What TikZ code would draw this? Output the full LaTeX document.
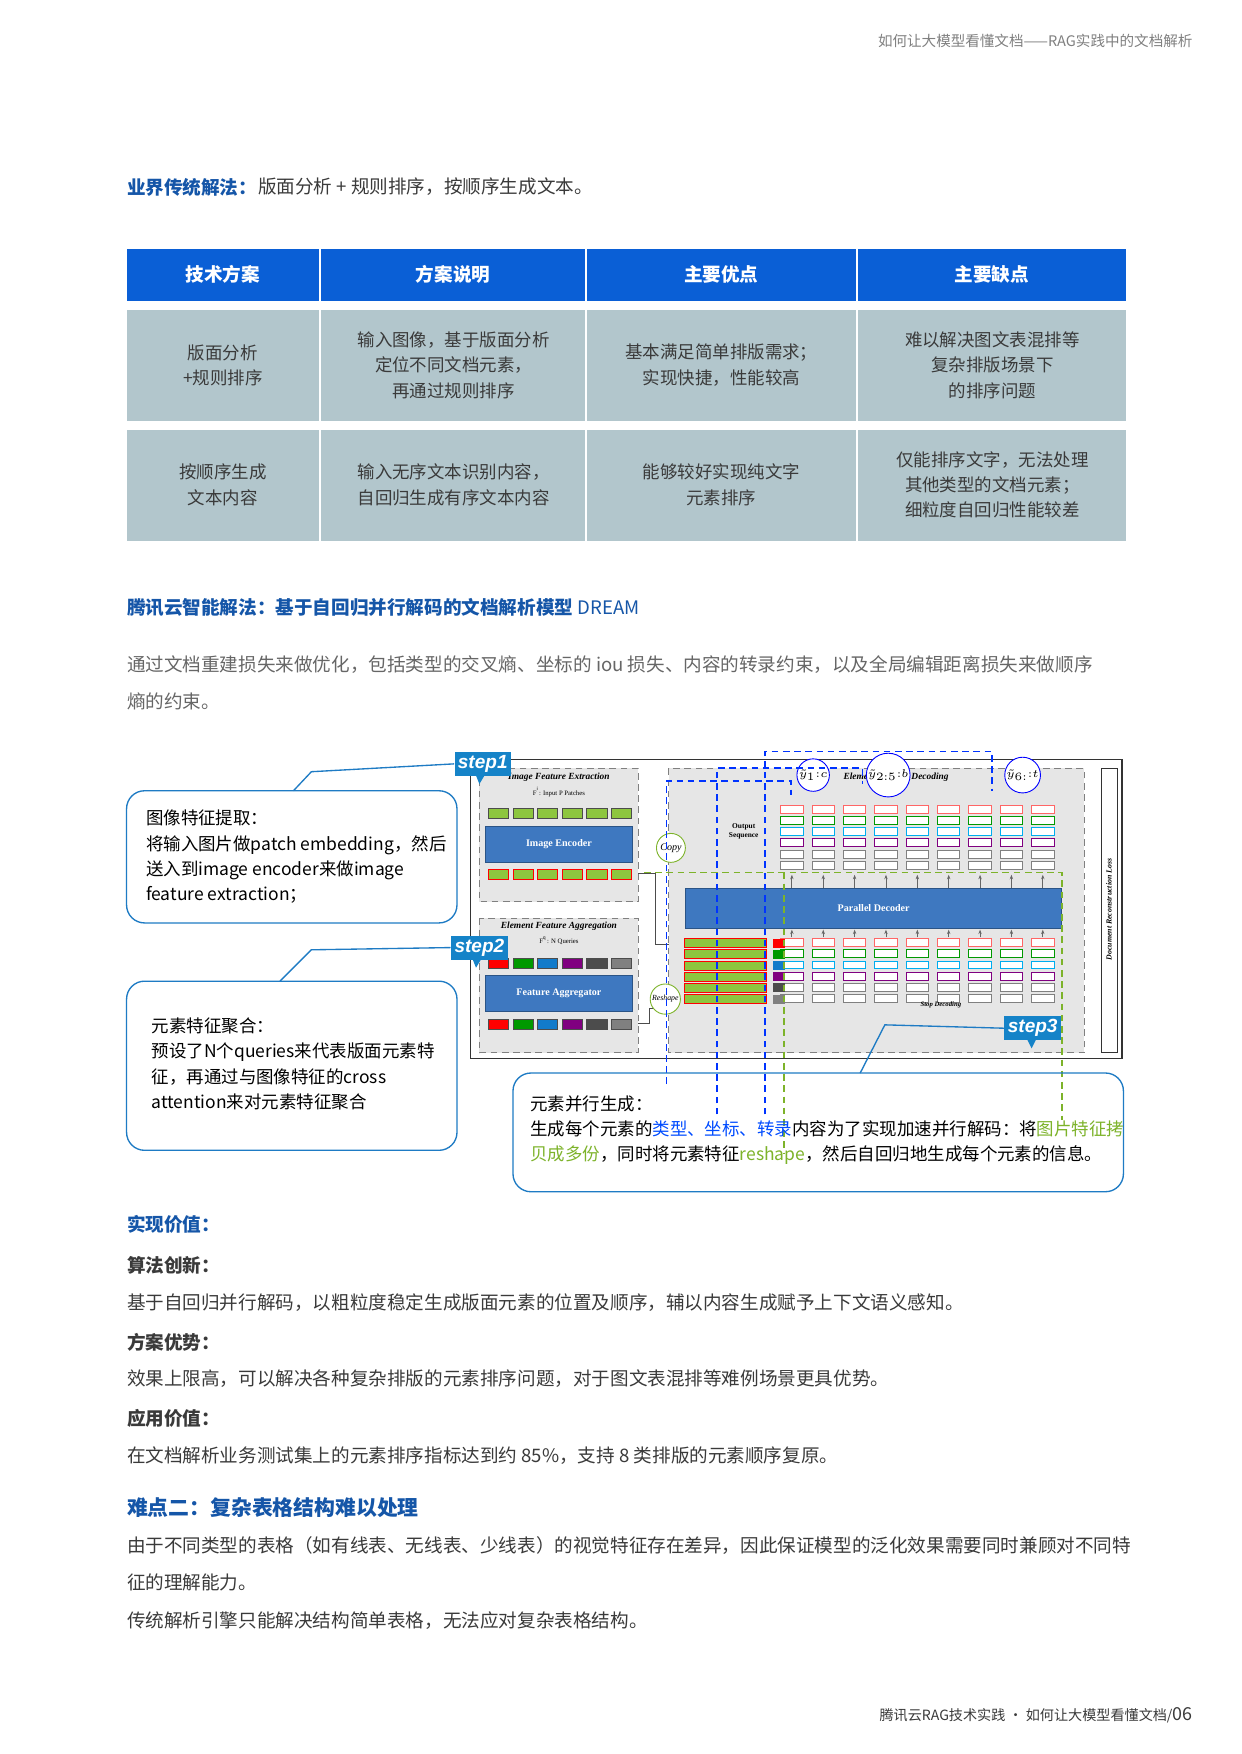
\documentclass[tikz,border=0pt]{standalone}
\usepackage{fontspec}
\setmainfont{Noto Sans CJK SC}
\newfontfamily\serifd{Liberation Serif}
\newfontfamily\sansd{Liberation Sans}
\usetikzlibrary{shapes.callouts,arrows.meta}
\definecolor{tblue}{HTML}{0A5FD6}
\definecolor{hblue}{HTML}{1556A8}
\definecolor{cellg}{HTML}{B2C6CC}
\definecolor{txt}{HTML}{3A3A3A}
\definecolor{dblue}{HTML}{3E78C0}
\definecolor{lgray}{HTML}{E6E6E6}
\definecolor{pgreen}{HTML}{8DC63F}
\definecolor{cblue}{HTML}{1E7BC4}
\definecolor{ygreen}{HTML}{7DB32A}
\definecolor{tagblue}{HTML}{1583C8}
\tikzset{
 body/.style={anchor=west,font=\fontsize{8.3}{10}\selectfont,text=txt,inner sep=0},
 head/.style={anchor=west,font=\fontsize{8.3}{10}\selectfont\bfseries,text=hblue,inner sep=0},
 sub/.style={anchor=west,font=\fontsize{8.3}{10}\selectfont\bfseries,text=txt,inner sep=0},
 th/.style={font=\fontsize{8.3}{10}\selectfont\bfseries,text=white},
 td/.style={font=\fontsize{7.8}{11.3}\selectfont,text=txt,align=center},
 callbox/.style={draw=cblue,line width=0.6pt,rounded corners=8pt},
 ctext/.style={anchor=west,font=\fontsize{7.8}{11.3}\selectfont,text=black,align=left,inner sep=0},
 steptag/.style={fill=tagblue,text=white,font=\sansd\fontsize{8.5}{10}\selectfont\bfseries\itshape,inner sep=1.5pt},
 dtitle/.style={font=\serifd\fontsize{4.2}{5}\selectfont\bfseries\itshape},
 blk/.style={fill=dblue,draw=dblue!70!black,text=white,font=\serifd\fontsize{4.5}{5}\selectfont\bfseries},
 bdash/.style={draw=blue!80!cyan,densely dashed,line width=0.8pt},
 gdash/.style={draw=ygreen,densely dashed,line width=0.8pt},
 ybub/.style={draw=blue,fill=white,circle,inner sep=0.3pt,font=\serifd\fontsize{3.6}{4}\selectfont},
}
\begin{document}
\begin{tikzpicture}[x=0.5pt,y=-0.5pt]
\useasboundingbox (0,0) rectangle (1108,1566);
\fill[white] (0,0) rectangle (1108,1566);
% header
\node[anchor=east,font=\fontsize{6.5}{8}\selectfont,text=gray,inner sep=0] (hdr) at (1065,37) {如何让大模型看懂文档——RAG实践中的文档解析};
\node[head] (h1) at (113,167) {业界传统解法：};
\node[body,anchor=west] (h1b) at (h1.east) {版面分析 + 规则排序，按顺序生成文本。};
% table
\foreach \a/\b/\t in {113/285/技术方案,287/522/方案说明,524/764/主要优点,766/1005/主要缺点}{
 \fill[tblue] (\a,222) rectangle (\b,269);
 \node[th] at ({(\a+\b)/2},245) {\t};
}
\foreach \a/\b in {113/285,287/522,524/764,766/1005}{
 \fill[cellg] (\a,277) rectangle (\b,376);
 \fill[cellg] (\a,384) rectangle (\b,483);
}
\node[td] (c11) at (199,326) {版面分析\\+规则排序};
\node[td] (c12) at (405,326) {输入图像，基于版面分析\\定位不同文档元素，\\再通过规则排序};
\node[td] (c13) at (644,326) {基本满足简单排版需求；\\实现快捷，性能较高};
\node[td] (c14) at (886,326) {难以解决图文表混排等\\复杂排版场景下\\的排序问题};
\node[td] (c21) at (199,433) {按顺序生成\\文本内容};
\node[td] (c22) at (405,433) {输入无序文本识别内容，\\自回归生成有序文本内容};
\node[td] (c23) at (644,433) {能够较好实现纯文字\\元素排序};
\node[td] (c24) at (886,433) {仅能排序文字，无法处理\\其他类型的文档元素；\\细粒度自回归性能较差};
% DREAM heading
\node[head] (h2) at (113,542) {腾讯云智能解法：基于自回归并行解码的文档解析模型 \textmd{DREAM}};
\node[body,text=gray!80!black] (p1) at (113,593) {通过文档重建损失来做优化，包括类型的交叉熵、坐标的 iou 损失、内容的转录约束，以及全局编辑距离损失来做顺序};
\node[body,text=gray!80!black] (p2) at (113,626) {熵的约束。};
% ===== diagram =====
\draw[line width=0.8pt,black!80] (420,678) rectangle (1002,945);
% left modules
\fill[lgray] (428,686) rectangle (570,805); \draw[densely dashed,gray] (428,686) rectangle (570,805);
\node[dtitle] at (499,694) {Image Feature Extraction};
\node[font=\serifd\fontsize{3}{4}\selectfont] at (499,707) {F$^{\mathrm i}$: Input P Patches};
\foreach \i in {0,...,5}{
 \fill[pgreen,draw=black!70] ({436+\i*22},722) rectangle ({454+\i*22},731);
 \fill[pgreen,draw=red] ({436+\i*22},776) rectangle ({454+\i*22},785);
}
\node[blk,minimum width=66pt,minimum height=16pt] (ienc) at (499,754) {Image Encoder};
\fill[lgray] (428,820) rectangle (570,940); \draw[densely dashed,gray] (428,820) rectangle (570,940);
\node[dtitle] at (499,827) {Element Feature Aggregation};
\node[font=\serifd\fontsize{3}{4}\selectfont] at (499,840) {F$^{\mathrm q}$: N Queries};
\foreach \i/\c in {0/red,1/green!60!black,2/cyan!60!blue,3/violet,4/black!70,5/gray}{
 \fill[\c,draw=black!70] ({436+\i*22},856) rectangle ({454+\i*22},865);
 \fill[\c,draw=black!70] ({436+\i*22},910) rectangle ({454+\i*22},919);
}
\node[blk,minimum width=66pt,minimum height=16pt] (fagg) at (499,887) {Feature Aggregator};
\draw[-{Stealth[length=2pt]},black!70] (570,780) -- (585,780) -- (585,843) -- (611,843);
\draw[-{Stealth[length=2pt]},black!70] (570,914) -- (580,914) -- (580,900) -- (611,900);
% right region
\fill[lgray] (597,686) rectangle (968,940); \draw[densely dashed,gray] (597,686) rectangle (968,940);
\node[dtitle] at (800,694) {Element Parallel Decoding};
\node[font=\serifd\fontsize{3.3}{4}\selectfont\bfseries,align=center] at (664,742) {Output\\Sequence};
\node[blk,minimum width=168pt,minimum height=18pt] (pdec) at (780,811) {Parallel Decoder};
\draw[black!80] (983,686) rectangle (998,940);
\node[rotate=90,font=\serifd\fontsize{3.5}{4}\selectfont\bfseries\itshape] at (990,812) {Document Reconstruction Loss};
\foreach \j in {0,...,8}{
 \pgfmathsetmacro\x{697+\j*28}
 \foreach \k/\c in {0/red!60,1/green!60!black,2/cyan,3/violet,4/gray,5/gray}{
  \fill[white,draw=\c] (\x,{719+\k*10}) rectangle (\x+20,{726+\k*10});
 }
 \foreach \k/\c in {0/red!60,1/green!60!black,2/cyan,3/violet,4/gray,5/gray}{
  \fill[white,draw=\c] (\x,{838+\k*10}) rectangle (\x+20,{845+\k*10});
 }
 \draw[-{Stealth[length=2pt]},black!60] (\x+10,793) -- (\x+10,781);
 \draw[-{Stealth[length=2pt]},black!60] (\x+10,837) -- (\x+10,830);
}
\foreach \r/\c in {0/red,1/green!60!black,2/cyan!60!blue,3/violet,4/black!70,5/gray}{
 \fill[pgreen,draw=red] (611,{838+\r*10}) rectangle (684,{846+\r*10});
 \fill[\c] (690,{838+\r*10}) rectangle (701,{846+\r*10});
}
\node[font=\serifd\fontsize{3}{4}\selectfont\itshape\bfseries] at (840,897) {Stop Decoding};
% callouts in diagram
\node[draw=ygreen,fill=white,circle,inner sep=1pt,font=\serifd\fontsize{4.5}{5}\selectfont\itshape] (copy) at (599,757) {Copy};
\node[draw=ygreen,fill=white,circle,inner sep=0.5pt,font=\serifd\fontsize{3.5}{4}\selectfont\itshape] (resh) at (594,892) {Reshape};
\node[ybub] (y1) at (726,692) {$\tilde y_1{:}c$};
\node[ybub] (y2) at (793,692) {$\tilde y_{2:5}{:}b$};
\node[ybub] (y3) at (913,692) {$\tilde y_{6:}{:}t$};
% dashed guides
\draw[bdash] (595,968) -- (595,697) -- (706,697) -- (706,710);
\draw[bdash] (640,995) -- (640,686) -- (770,686) -- (770,700);
\draw[bdash] (683,995) -- (683,671) -- (886,671) -- (886,706);
\draw[gdash] (575,779) -- (948,779) -- (948,1000);
\draw[gdash] (700,779) -- (700,1030);
% steps and callout boxes
\node[steptag] (s1) at (431,682) {step1};
\fill[tagblue] (424,690) -- (434,690) -- (428,700) -- cycle;
\node[steptag] (s2) at (428,846) {step2};
\fill[tagblue] (421,854) -- (431,854) -- (425,864) -- cycle;
\node[steptag] (s3) at (922,918) {step3};
\fill[tagblue] (916,926) -- (926,926) -- (921,936) -- cycle;
\draw[callbox] (113,706) rectangle (408,824);
\coordinate (k1) at (262,706);
\draw[cblue,line width=0.6pt] (k1) -- (278,689) -- (s1.west);
\node[ctext] (t1) at (130,765) {图像特征提取：\\将输入图片做patch embedding，然后\\送入到image encoder来做image\\feature extraction；};
\draw[callbox] (113,876) rectangle (408,1027);
\coordinate (k2) at (250,876);
\draw[cblue,line width=0.6pt] (k2) -- (278,848) -- (s2.west);
\node[ctext] (t2) at (135,950) {元素特征聚合：\\预设了N个queries来代表版面元素特\\征，再通过与图像特征的cross\\attention来对元素特征聚合};
\draw[callbox] (458,958) rectangle (1003,1064);
\coordinate (k3) at (768,958);
\draw[cblue,line width=0.6pt] (k3) -- (790,915) -- (s3.west);
\node[ctext] (t3) at (473,1009) {元素并行生成：\\生成每个元素的\textcolor{blue!70!cyan}{类型、坐标、转录}内容为了实现加速并行解码：将\textcolor{ygreen}{图片特征拷}\\\textcolor{ygreen}{贝成多份}，同时将元素特征\textcolor{ygreen}{reshape}，然后自回归地生成每个元素的信息。};
% lower text
\node[head] (v0) at (113,1093) {实现价值：};
\node[sub] (v1) at (113,1130) {算法创新：};
\node[body] (v1t) at (113,1163) {基于自回归并行解码，以粗粒度稳定生成版面元素的位置及顺序，辅以内容生成赋予上下文语义感知。};
\node[sub] (v2) at (113,1198) {方案优势：};
\node[body] (v2t) at (113,1231) {效果上限高，可以解决各种复杂排版的元素排序问题，对于图文表混排等难例场景更具优势。};
\node[sub] (v3) at (113,1266) {应用价值：};
\node[body] (v3t) at (113,1300) {在文档解析业务测试集上的元素排序指标达到约 85\%，支持 8 类排版的元素顺序复原。};
\node[head,font=\fontsize{9.3}{11}\selectfont\bfseries] (d2) at (113,1346) {难点二：复杂表格结构难以处理};
\node[body] (d2a) at (113,1380) {由于不同类型的表格（如有线表、无线表、少线表）的视觉特征存在差异，因此保证模型的泛化效果需要同时兼顾对不同特};
\node[body] (d2b) at (113,1413) {征的理解能力。};
\node[body] (d2c) at (113,1447) {传统解析引擎只能解决结构简单表格，无法应对复杂表格结构。};
\node[anchor=east,font=\fontsize{6.3}{8}\selectfont,text=txt,inner sep=0] (ftr) at (1065,1531) {腾讯云RAG技术实践 · 如何让大模型看懂文档/\fontsize{8}{9}\selectfont 06};
\end{tikzpicture}
\end{document}
